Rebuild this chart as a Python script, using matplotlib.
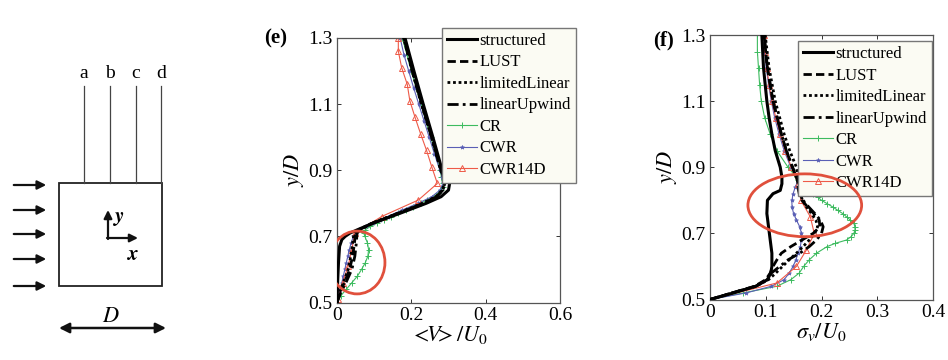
import numpy as np
import matplotlib
matplotlib.use('Agg')
import matplotlib.pyplot as plt
from matplotlib.patches import Ellipse, Rectangle

plt.rcParams['font.family'] = ['Liberation Serif', 'DejaVu Serif']
plt.rcParams['mathtext.fontset'] = 'stix'

# ---- panel (e): <V>/U0 vs y/D ----
e_struct_y = [0.50, 0.53, 0.57, 0.62, 0.67, 0.69, 0.70, 0.71, 0.72, 0.74, 0.77, 0.80, 0.82, 0.84, 0.86, 0.88, 0.90, 1.00, 1.10, 1.20, 1.30]
e_struct_v = [0, 0.001, 0.002, 0.004, 0.007, 0.013, 0.022, 0.035, 0.055, 0.097, 0.17, 0.24, 0.28, 0.30, 0.303, 0.295, 0.283, 0.258, 0.232, 0.207, 0.183]

e_y = [0.50, 0.53, 0.56, 0.60, 0.64, 0.68, 0.71, 0.72, 0.74, 0.77, 0.80, 0.82, 0.84, 0.86, 0.88, 0.90, 1.00, 1.10, 1.20, 1.30]
e_lust_v = [0, 0.008, 0.02, 0.034, 0.042, 0.047, 0.05, 0.06, 0.095, 0.165, 0.232, 0.268, 0.285, 0.29, 0.287, 0.28, 0.255, 0.228, 0.203, 0.18]
e_limlin_v = [0, 0.007, 0.017, 0.03, 0.037, 0.042, 0.046, 0.058, 0.094, 0.164, 0.23, 0.266, 0.283, 0.289, 0.286, 0.279, 0.254, 0.227, 0.202, 0.179]
e_linup_v = [0, 0.01, 0.024, 0.04, 0.048, 0.052, 0.054, 0.063, 0.096, 0.166, 0.233, 0.268, 0.285, 0.29, 0.287, 0.28, 0.255, 0.228, 0.203, 0.18]

e_cr_y = [0.50, 0.52, 0.54, 0.56, 0.58, 0.60, 0.62, 0.64, 0.66, 0.68, 0.70, 0.71, 0.72, 0.73, 0.74, 0.75, 0.76, 0.77, 0.78, 0.79,
          0.80, 0.81, 0.82, 0.83, 0.84, 0.85, 0.86, 0.88, 0.90, 0.95, 1.00, 1.05, 1.10, 1.15, 1.20, 1.25, 1.30]
e_cr_v = [0, 0.01, 0.025, 0.04, 0.055, 0.066, 0.076, 0.083, 0.085, 0.082, 0.075, 0.072, 0.076, 0.09, 0.108, 0.127, 0.146, 0.165, 0.185, 0.205,
          0.225, 0.243, 0.26, 0.272, 0.28, 0.284, 0.284, 0.281, 0.277, 0.265, 0.252, 0.239, 0.226, 0.213, 0.2, 0.188, 0.176]

e_cwr_y = [0.50, 0.52, 0.54, 0.56, 0.58, 0.60, 0.62, 0.64, 0.66, 0.68, 0.70, 0.71, 0.72, 0.73, 0.74, 0.75, 0.76, 0.78, 0.80, 0.82,
           0.84, 0.86, 0.88, 0.90, 0.95, 1.00, 1.05, 1.10, 1.15, 1.20, 1.25, 1.30]
e_cwr_v = [0, 0.004, 0.009, 0.013, 0.017, 0.021, 0.025, 0.029, 0.033, 0.038, 0.044, 0.05, 0.06, 0.078, 0.098, 0.117, 0.136, 0.176, 0.218, 0.255,
           0.277, 0.285, 0.283, 0.277, 0.262, 0.248, 0.234, 0.22, 0.206, 0.193, 0.18, 0.17]

e_cwr14_y = [0.51, 0.56, 0.61, 0.66, 0.71, 0.76, 0.81, 0.86, 0.91, 0.96, 1.01, 1.06, 1.11, 1.16, 1.21, 1.26, 1.30]
e_cwr14_v = [0.003, 0.015, 0.03, 0.04, 0.048, 0.12, 0.219, 0.27, 0.255, 0.241, 0.225, 0.21, 0.196, 0.189, 0.174, 0.165, 0.165]

# ---- panel (f): sigma_v/U0 vs y/D ----
f_struct_y = [0.50, 0.52, 0.54, 0.56, 0.58, 0.60, 0.64, 0.68, 0.72, 0.76, 0.80, 0.82, 0.83, 0.85, 0.87, 0.90, 0.95, 1.00, 1.05, 1.10, 1.20, 1.30]
f_struct_s = [0, 0.042, 0.082, 0.103, 0.109, 0.111, 0.111, 0.108, 0.105, 0.102, 0.103, 0.113, 0.126, 0.129, 0.129, 0.126, 0.117, 0.111, 0.106, 0.102, 0.096, 0.093]

f_y = [0.50, 0.52, 0.54, 0.56, 0.58, 0.60, 0.62, 0.64, 0.66, 0.68, 0.70, 0.72, 0.74, 0.76, 0.78, 0.80, 0.82, 0.84, 0.86, 0.90, 0.95, 1.00, 1.10, 1.20, 1.30]
f_lust_s = [0, 0.04, 0.08, 0.1, 0.108, 0.113, 0.12, 0.128, 0.145, 0.165, 0.185, 0.197, 0.196, 0.186, 0.175, 0.165, 0.16, 0.158, 0.157, 0.148, 0.137, 0.128, 0.113, 0.103, 0.097]
f_limlin_s = [0, 0.04, 0.082, 0.105, 0.118, 0.13, 0.142, 0.155, 0.167, 0.178, 0.188, 0.193, 0.19, 0.182, 0.173, 0.166, 0.162, 0.16, 0.159, 0.155, 0.143, 0.133, 0.117, 0.106, 0.099]
f_linup_s = [0, 0.04, 0.082, 0.103, 0.11, 0.125, 0.14, 0.161, 0.178, 0.191, 0.2, 0.203, 0.198, 0.188, 0.177, 0.167, 0.161, 0.158, 0.157, 0.148, 0.137, 0.128, 0.113, 0.103, 0.097]

f_cr_y = [0.50, 0.52, 0.54, 0.56, 0.58, 0.60, 0.62, 0.64, 0.66, 0.67, 0.68, 0.69, 0.70, 0.71, 0.72, 0.73, 0.74, 0.75, 0.76, 0.77,
          0.78, 0.79, 0.80, 0.81, 0.82, 0.83, 0.84, 0.85, 0.86, 0.88, 0.90, 0.95, 1.00, 1.05, 1.10, 1.15, 1.20, 1.25, 1.30]
f_cr_s = [0, 0.06, 0.12, 0.145, 0.16, 0.168, 0.178, 0.191, 0.21, 0.225, 0.245, 0.253, 0.258, 0.26, 0.26, 0.258, 0.252, 0.245, 0.238, 0.229,
          0.22, 0.21, 0.2, 0.193, 0.185, 0.177, 0.168, 0.162, 0.158, 0.15, 0.14, 0.12, 0.108, 0.098, 0.092, 0.089, 0.087, 0.085, 0.085]

f_cwr_y = [0.50, 0.52, 0.54, 0.56, 0.58, 0.60, 0.62, 0.64, 0.66, 0.68, 0.70, 0.72, 0.74, 0.76, 0.78, 0.80, 0.82, 0.84, 0.86, 0.88,
           0.90, 0.95, 1.00, 1.05, 1.10, 1.15, 1.20, 1.25, 1.30]
f_cwr_s = [0, 0.065, 0.11, 0.133, 0.142, 0.149, 0.154, 0.158, 0.162, 0.164, 0.164, 0.161, 0.155, 0.15, 0.147, 0.147, 0.149, 0.153, 0.158, 0.152,
           0.145, 0.133, 0.124, 0.116, 0.11, 0.105, 0.101, 0.098, 0.097]

f_cwr14_y = [0.50, 0.55, 0.60, 0.65, 0.70, 0.75, 0.80, 0.85, 0.90, 0.95, 1.00, 1.05, 1.10, 1.15, 1.20, 1.25, 1.30]
f_cwr14_s = [0, 0.12, 0.155, 0.173, 0.187, 0.18, 0.163, 0.158, 0.146, 0.135, 0.126, 0.118, 0.111, 0.106, 0.102, 0.099, 0.097]

labels = ['structured', 'LUST', 'limitedLinear', 'linearUpwind', 'CR', 'CWR', 'CWR14D']
green = '#3dbb5f'
blue = '#5a5fb5'
red = '#ee5a48'
circle_col = '#e0503c'

fig = plt.figure(figsize=(9.48, 3.6), dpi=100)

# ---- schematic on the left (drawn in pixel units) ----
ax0 = fig.add_axes([0, 0, 230 / 948, 1])
ax0.set_xlim(0, 230)
ax0.set_ylim(360, 0)
ax0.axis('off')
ax0.add_patch(Rectangle((59, 183), 103, 103, fill=False, ec='#222222', lw=1.3))
for xp, lab in zip([84, 110, 136, 161], ['a', 'b', 'c', 'd']):
    ax0.plot([xp, xp], [86, 183], color='#444444', lw=0.9)
    ax0.text(xp, 73, lab, ha='center', va='center', fontsize=14)
for yp in [185, 210, 234, 259, 286]:
    ax0.annotate('', xy=(49, yp), xytext=(11, yp),
                 arrowprops=dict(arrowstyle='-|>', color='#111111', lw=1.6, mutation_scale=13))
ax0.annotate('', xy=(108, 210), xytext=(108, 239),
             arrowprops=dict(arrowstyle='-|>', color='#111111', lw=1.6, mutation_scale=12, shrinkA=0, shrinkB=0))
ax0.annotate('', xy=(138, 238), xytext=(107, 238),
             arrowprops=dict(arrowstyle='-|>', color='#111111', lw=1.6, mutation_scale=12, shrinkA=0, shrinkB=0))
ax0.text(119, 218, r'$\boldsymbol{y}$', fontsize=15, ha='center', va='center')
ax0.text(133, 256, r'$\boldsymbol{x}$', fontsize=15, ha='center', va='center')
ax0.text(111, 317, r'$D$', fontsize=16, ha='center', va='center')
ax0.annotate('', xy=(166, 328), xytext=(59, 328),
             arrowprops=dict(arrowstyle='<|-|>', color='#111111', lw=1.8, mutation_scale=15, shrinkA=0, shrinkB=0))


def style_axes(ax, xticks):
    ax.set_ylim(0.5, 1.3)
    ax.set_yticks([0.5, 0.7, 0.9, 1.1, 1.3])
    ax.set_yticklabels(['0.5', '0.7', '0.9', '1.1', '1.3'])
    ax.set_xticks(xticks)
    ax.set_xticklabels(['0' if t == 0 else f'{t:g}' for t in xticks])
    ax.set_xlim(xticks[0], xticks[-1])
    ax.tick_params(direction='in', length=3, width=0.7, top=True, right=True,
                   labelsize=14, pad=3, colors='#333333', labelcolor='black')
    for s in ax.spines.values():
        s.set_color('#555555')
        s.set_linewidth(0.9)
    ax.set_ylabel(r'$y/D$', fontsize=16, labelpad=2)


def draw(ax, ys, vals):
    (sy, sv), (ly, lv), (lly, llv), (uy, uv), (cy, cv), (wy, wv), (ry, rv) = zip(ys, vals)
    ax.plot(cv, cy, color=green, lw=0.8, marker='+', ms=4, mew=0.7, label=labels[4], zorder=2)
    ax.plot(wv, wy, color=blue, lw=0.8, marker='*', ms=3, mew=0.5, label=labels[5], zorder=2)
    ax.plot(rv, ry, color=red, lw=0.8, marker='^', ms=4, mfc='none', mew=0.7, label=labels[6], zorder=2)
    ax.plot(sv, sy, color='black', lw=2.2, ls='-', label=labels[0], zorder=3)
    ax.plot(lv, ly, color='black', lw=2.0, ls=(0, (3, 1.5)), label=labels[1], zorder=3)
    ax.plot(llv, lly, color='black', lw=2.0, ls=(0, (1, 1)), label=labels[2], zorder=3)
    ax.plot(uv, uy, color='black', lw=2.0, ls=(0, (4, 1.5, 1, 1.5)), label=labels[3], zorder=3)


def legend(ax, anchor):
    h, l = ax.get_legend_handles_labels()
    order = [l.index(name) for name in labels]
    leg = ax.legend([h[i] for i in order], [l[i] for i in order], loc='upper left',
                    bbox_to_anchor=anchor, borderaxespad=0, fontsize=12, handlelength=1.8,
                    handletextpad=0.15, labelspacing=0.33, borderpad=0.3, fancybox=False,
                    framealpha=1, facecolor='#fbfbf3', edgecolor='#777777')
    leg.get_frame().set_linewidth(1.0)
    leg.set_zorder(5)
    return leg


# ---- panel (e) ----
ax1 = fig.add_axes([337 / 948, 1 - 302.5 / 360, 223 / 948, 264.5 / 360])
draw(ax1, [e_struct_y, e_y, e_y, e_y, e_cr_y, e_cwr_y, e_cwr14_y],
     [e_struct_v, e_lust_v, e_limlin_v, e_linup_v, e_cr_v, e_cwr_v, e_cwr14_v])
style_axes(ax1, [0, 0.2, 0.4, 0.6])
ax1.set_xlabel(r'$<\!\!V\!\!>/U_0$', fontsize=16, labelpad=0)
ax1.add_patch(Ellipse((0.054, 0.621), 0.15, 0.19, fill=False, ec=circle_col, lw=2.0, zorder=4))
legend(ax1, (0.471, 1.038))
fig.text(276, 360 - 38, '(e)', transform=None, fontsize=15, fontweight='bold', ha='center', va='center')

# ---- panel (f) ----
ax2 = fig.add_axes([710 / 948, 1 - 299.5 / 360, 223 / 948, 264.5 / 360])
draw(ax2, [f_struct_y, f_y, f_y, f_y, f_cr_y, f_cwr_y, f_cwr14_y],
     [f_struct_s, f_lust_s, f_limlin_s, f_linup_s, f_cr_s, f_cwr_s, f_cwr14_s])
style_axes(ax2, [0, 0.1, 0.2, 0.3, 0.4])
ax2.set_xlabel(r'$\sigma_v/U_0$', fontsize=16, labelpad=0)
ax2.add_patch(Ellipse((0.170, 0.785), 0.204, 0.19, fill=False, ec=circle_col, lw=2.0, zorder=6))
legend(ax2, (0.395, 0.977))
fig.text(664, 360 - 40, '(f)', transform=None, fontsize=15, fontweight='bold', ha='center', va='center')

fig.savefig('out.png', dpi=100)
